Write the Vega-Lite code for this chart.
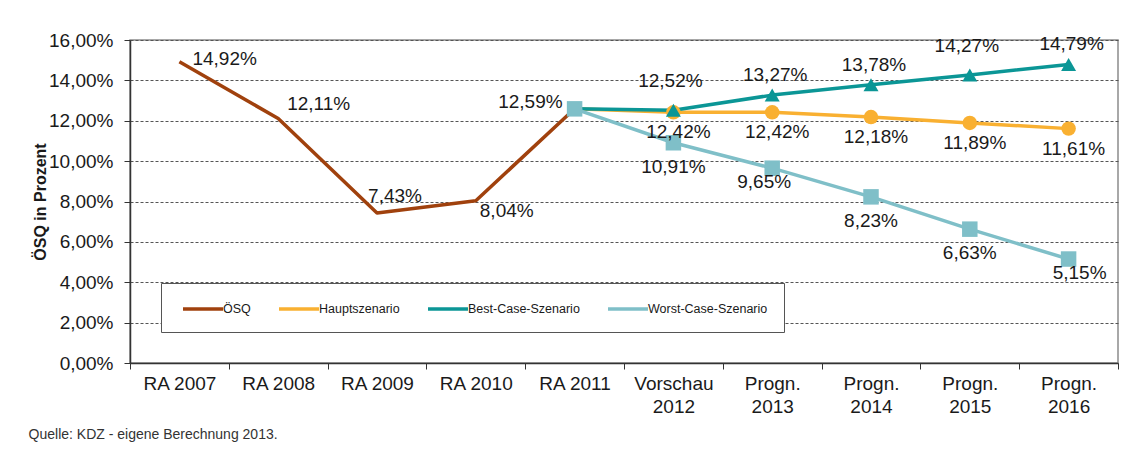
{
  "$schema": "https://vega.github.io/schema/vega-lite/v6.json",
  "width": 988,
  "height": 323,
  "autosize": {"type": "none"},
  "padding": {"left": 130, "top": 40, "right": 10, "bottom": 96},
  "background": "white",
  "title": {
    "text": "Quelle:  KDZ - eigene Berechnung 2013.",
    "orient": "bottom",
    "anchor": "start",
    "frame": "bounds",
    "dx": -4,
    "offset": 12,
    "font": "Liberation Sans",
    "fontSize": 14,
    "fontWeight": "normal",
    "color": "#333333"
  },
  "config": {
    "locale": {"number": {"decimal": ",", "thousands": ".", "grouping": [3], "currency": ["", " €"]}},
    "font": "Liberation Sans",
    "view": {"stroke": "#8c8c8c", "strokeWidth": 1.5},
    "text": {"font": "Liberation Sans", "fontSize": 19, "color": "#1a1a1a"}
  },
  "data": {
    "values": [
      {"cat": "RA 2007", "series": "ÖSQ", "v": 0.1492},
      {"cat": "RA 2008", "series": "ÖSQ", "v": 0.1211},
      {"cat": "RA 2009", "series": "ÖSQ", "v": 0.0743},
      {"cat": "RA 2010", "series": "ÖSQ", "v": 0.0804},
      {"cat": "RA 2011", "series": "ÖSQ", "v": 0.1259},
      {"cat": "RA 2011", "series": "Hauptszenario", "v": 0.1259},
      {"cat": "Vorschau 2012", "series": "Hauptszenario", "v": 0.1242},
      {"cat": "Progn. 2013", "series": "Hauptszenario", "v": 0.1242},
      {"cat": "Progn. 2014", "series": "Hauptszenario", "v": 0.1218},
      {"cat": "Progn. 2015", "series": "Hauptszenario", "v": 0.1189},
      {"cat": "Progn. 2016", "series": "Hauptszenario", "v": 0.1161},
      {"cat": "RA 2011", "series": "Best-Case-Szenario", "v": 0.1259},
      {"cat": "Vorschau 2012", "series": "Best-Case-Szenario", "v": 0.1252},
      {"cat": "Progn. 2013", "series": "Best-Case-Szenario", "v": 0.1327},
      {"cat": "Progn. 2014", "series": "Best-Case-Szenario", "v": 0.1378},
      {"cat": "Progn. 2015", "series": "Best-Case-Szenario", "v": 0.1427},
      {"cat": "Progn. 2016", "series": "Best-Case-Szenario", "v": 0.1479},
      {"cat": "RA 2011", "series": "Worst-Case-Szenario", "v": 0.1259},
      {"cat": "Vorschau 2012", "series": "Worst-Case-Szenario", "v": 0.1091},
      {"cat": "Progn. 2013", "series": "Worst-Case-Szenario", "v": 0.0965},
      {"cat": "Progn. 2014", "series": "Worst-Case-Szenario", "v": 0.0823},
      {"cat": "Progn. 2015", "series": "Worst-Case-Szenario", "v": 0.0663},
      {"cat": "Progn. 2016", "series": "Worst-Case-Szenario", "v": 0.0515}
    ]
  },
  "encoding": {
    "x": {
      "field": "cat",
      "type": "nominal",
      "bandPosition": 0.5,
      "sort": ["RA 2007", "RA 2008", "RA 2009", "RA 2010", "RA 2011", "Vorschau 2012", "Progn. 2013", "Progn. 2014", "Progn. 2015", "Progn. 2016"],
      "scale": {"type": "band", "paddingInner": 0, "paddingOuter": 0},
      "axis": {
        "title": null,
        "labelAngle": 0,
        "tickBand": "extent",
        "labelExpr": "indexof(datum.label, 'RA') == 0 ? datum.label : split(datum.label, ' ')",
        "labelFont": "Liberation Sans",
        "labelFontSize": 19,
        "labelColor": "#1a1a1a",
        "labelLineHeight": 23,
        "labelPadding": 5,
        "tickSize": 6,
        "tickColor": "#333333",
        "domainColor": "#333333",
        "domainWidth": 1.5,
        "grid": false
      }
    },
    "y": {
      "field": "v",
      "type": "quantitative",
      "scale": {"domain": [0, 0.16]},
      "axis": {
        "title": "ÖSQ in Prozent",
        "titleFont": "Liberation Sans",
        "titleFontSize": 16,
        "titleFontWeight": "bold",
        "titleColor": "#1a1a1a",
        "titlePadding": 0,
        "format": ".2%",
        "values": [0, 0.02, 0.04, 0.06, 0.08, 0.1, 0.12, 0.14, 0.16],
        "labelFont": "Liberation Sans",
        "labelFontSize": 19,
        "labelColor": "#1a1a1a",
        "labelPadding": 11,
        "tickSize": 6,
        "tickColor": "#333333",
        "domainColor": "#333333",
        "domainWidth": 1.5,
        "grid": true,
        "gridColor": "#555555",
        "gridDash": [3, 2],
        "gridWidth": 1
      }
    }
  },
  "layer": [
    {
      "mark": {"type": "line", "strokeJoin": "round"},
      "encoding": {
        "color": {
          "field": "series",
          "type": "nominal",
          "scale": {
            "domain": ["ÖSQ", "Hauptszenario", "Best-Case-Szenario", "Worst-Case-Szenario"],
            "range": ["#a0410d", "#f9b031", "#0b9696", "#7fbfc8"]
          },
          "legend": {
            "title": null,
            "orient": "none",
            "legendX": 31,
            "legendY": 243,
            "direction": "horizontal",
            "columns": 4,
            "padding": 16,
            "strokeColor": "#555555",
            "fillColor": "white",
            "symbolType": "M-0.5,0H4.5",
            "symbolSize": 256,
            "symbolStrokeWidth": 4,
            "labelOffset": 26,
            "columnPadding": 21,
            "labelFont": "Liberation Sans",
            "labelFontSize": 12.5,
            "labelColor": "#1a1a1a"
          }
        },
        "strokeWidth": {
          "field": "series",
          "type": "nominal",
          "scale": {
            "domain": ["ÖSQ", "Hauptszenario", "Best-Case-Szenario", "Worst-Case-Szenario"],
            "range": [3.5, 3.5, 5, 3]
          },
          "legend": null
        }
      }
    },
    {
      "transform": [
        {"filter": "datum.series != 'ÖSQ' && (datum.cat != 'RA 2011' || datum.series == 'Worst-Case-Szenario')"}
      ],
      "mark": {"type": "point", "filled": true, "opacity": 1},
      "encoding": {
        "color": {"field": "series", "type": "nominal", "legend": null},
        "shape": {
          "field": "series",
          "type": "nominal",
          "scale": {
            "domain": ["Hauptszenario", "Best-Case-Szenario", "Worst-Case-Szenario"],
            "range": ["circle", "triangle-up", "square"]
          },
          "legend": null
        },
        "size": {
          "field": "series",
          "type": "nominal",
          "scale": {
            "domain": ["Hauptszenario", "Best-Case-Szenario", "Worst-Case-Szenario"],
            "range": [210, 240, 260]
          },
          "legend": null
        }
      }
    },
    {
      "transform": [{"filter": "datum.series == 'ÖSQ' && datum.cat == 'RA 2007'"}],
      "mark": {"type": "text", "align": "left", "baseline": "middle", "dx": 13, "dy": -3},
      "encoding": {"text": {"field": "v", "type": "quantitative", "format": ".2%"}}
    },
    {
      "transform": [{"filter": "datum.series == 'ÖSQ' && datum.cat == 'RA 2008'"}],
      "mark": {"type": "text", "align": "left", "baseline": "middle", "dx": 9, "dy": -15},
      "encoding": {"text": {"field": "v", "type": "quantitative", "format": ".2%"}}
    },
    {
      "transform": [{"filter": "datum.series == 'ÖSQ' && datum.cat == 'RA 2009'"}],
      "mark": {"type": "text", "align": "center", "baseline": "middle", "dx": 18, "dy": -17},
      "encoding": {"text": {"field": "v", "type": "quantitative", "format": ".2%"}}
    },
    {
      "transform": [{"filter": "datum.series == 'ÖSQ' && datum.cat == 'RA 2010'"}],
      "mark": {"type": "text", "align": "left", "baseline": "middle", "dx": 4, "dy": 10},
      "encoding": {"text": {"field": "v", "type": "quantitative", "format": ".2%"}}
    },
    {
      "transform": [{"filter": "datum.series == 'ÖSQ' && datum.cat == 'RA 2011'"}],
      "mark": {"type": "text", "align": "right", "baseline": "middle", "dx": -12, "dy": -7},
      "encoding": {"text": {"field": "v", "type": "quantitative", "format": ".2%"}}
    },
    {
      "transform": [{"filter": "datum.series == 'Best-Case-Szenario' && (datum.cat == 'Vorschau 2012' || datum.cat == 'Progn. 2015')"}],
      "mark": {"type": "text", "align": "center", "baseline": "middle", "dx": -3, "dy": -29},
      "encoding": {"text": {"field": "v", "type": "quantitative", "format": ".2%"}}
    },
    {
      "transform": [{"filter": "datum.series == 'Best-Case-Szenario' && (datum.cat == 'Progn. 2013' || datum.cat == 'Progn. 2014' || datum.cat == 'Progn. 2016')"}],
      "mark": {"type": "text", "align": "center", "baseline": "middle", "dx": 3, "dy": -20},
      "encoding": {"text": {"field": "v", "type": "quantitative", "format": ".2%"}}
    },
    {
      "transform": [{"filter": "datum.series == 'Hauptszenario' && datum.cat != 'RA 2011'"}],
      "mark": {"type": "text", "align": "center", "baseline": "middle", "dx": 5, "dy": 20},
      "encoding": {"text": {"field": "v", "type": "quantitative", "format": ".2%"}}
    },
    {
      "transform": [{"filter": "datum.series == 'Worst-Case-Szenario' && (datum.cat == 'Vorschau 2012' || datum.cat == 'Progn. 2014' || datum.cat == 'Progn. 2015')"}],
      "mark": {"type": "text", "align": "center", "baseline": "middle", "dy": 24},
      "encoding": {"text": {"field": "v", "type": "quantitative", "format": ".2%"}}
    },
    {
      "transform": [{"filter": "datum.series == 'Worst-Case-Szenario' && datum.cat == 'Progn. 2013'"}],
      "mark": {"type": "text", "align": "center", "baseline": "middle", "dx": -8, "dy": 14},
      "encoding": {"text": {"field": "v", "type": "quantitative", "format": ".2%"}}
    },
    {
      "transform": [{"filter": "datum.series == 'Worst-Case-Szenario' && datum.cat == 'Progn. 2016'"}],
      "mark": {"type": "text", "align": "center", "baseline": "middle", "dx": 11, "dy": 14},
      "encoding": {"text": {"field": "v", "type": "quantitative", "format": ".2%"}}
    }
  ]
}
